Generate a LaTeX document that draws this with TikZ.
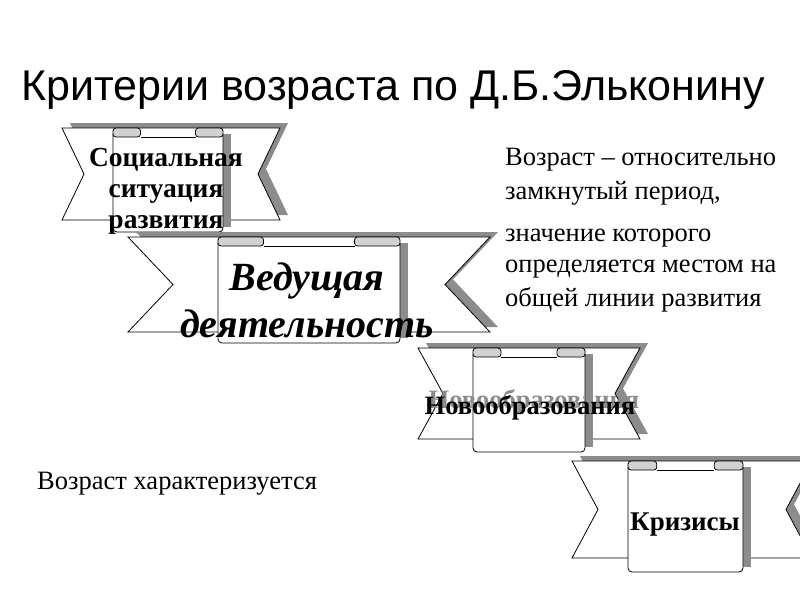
\documentclass[tikz,border=0pt]{standalone}
\usepackage{fontspec}
\setmainfont{Liberation Serif}
\newfontfamily\titlefont{Liberation Sans}
\tikzset{rib/.style={draw=black,fill=white,line width=0.8pt},
 shad/.style={fill=black!45,draw=none},
 roll/.style={draw=black,fill=black!18,line width=0.8pt,rounded corners=3pt},
 lab/.style={font=\bfseries,align=center,inner sep=0pt},
 txt/.style={anchor=west,inner sep=0pt,font=\fontsize{26.5}{30}\selectfont}}
% #1 left #2 right #3 top #4 bottom #5 notch #6 scroll left #7 scroll right #8 scroll bottom
\newcommand\mybanner[8]{%
 \fill[shad] (#1+8,#3-5) -- (#2+8,#3-5) -- (#2+8-#5,{(#3+#4)/2-5}) -- (#2+8,#4-5) -- (#1+8,#4-5) -- (#1+8+#5,{(#3+#4)/2-5}) -- cycle;
 \draw[rib] (#1,#3) -- (#2,#3) -- (#2-#5,{(#3+#4)/2}) -- (#2,#4) -- (#1,#4) -- (#1+#5,{(#3+#4)/2}) -- cycle;
 \fill[shad] (#6+8,#3+6) rectangle (#7+8,#8-5);
 \draw[rib,rounded corners=4pt] (#6,#3+6) -- (#6,#8) -- (#7,#8) -- (#7,#3+6);
 \draw[roll] (#6,#3) rectangle ({#6+0.25*(#7-#6)},#3+9);
 \draw[roll] ({#7-0.25*(#7-#6)},#3) rectangle (#7,#3+9);
 \draw[rib] ({#6+0.25*(#7-#6)},#3+9) -- ({#7-0.25*(#7-#6)},#3+9);
}
\begin{document}
\begin{tikzpicture}[x=1pt,y=-1pt]
\useasboundingbox (0,0) rectangle (800,600);
\node[inner sep=0pt,font=\titlefont\fontsize{43}{48}\selectfont] (title) at (393,90) {Критерии возраста по Д.Б.Эльконину};
\mybanner{62}{280}{128}{220}{22}{113}{223}{232}
\mybanner{128}{490}{237}{332}{45}{218}{400}{343}
\mybanner{418}{640}{348}{439}{25}{473}{585}{452}
\mybanner{572}{812}{461}{558}{26}{628}{743}{572}
\node[lab,font=\bfseries\fontsize{27.5}{31}\selectfont] (s) at (166,191) {Социальная\\ситуация\\развития};
\node[lab,font=\bfseries\itshape\fontsize{40}{47}\selectfont] (v) at (307,300) {Ведущая\\деятельность};
\node[lab,text=black!45,font=\bfseries\fontsize{26.5}{30}\selectfont] at (534,402) {Новообразования};
\node[lab,font=\bfseries\fontsize{26.5}{30}\selectfont] (n) at (530,408) {Новообразования};
\node[lab,font=\bfseries\fontsize{27}{30}\selectfont] (k) at (685,525) {Кризисы};
\node[txt] (r1) at (505,160) {Возраст – относительно};
\node[txt] (r2) at (505,193) {замкнутый период,};
\node[txt] (r3) at (505,238) {значение которого};
\node[txt] (r4) at (505,269) {определяется местом на};
\node[txt] (r5) at (505,300) {общей линии развития};
\node[txt] (l1) at (37,484) {Возраст характеризуется};
\end{tikzpicture}
\end{document}
